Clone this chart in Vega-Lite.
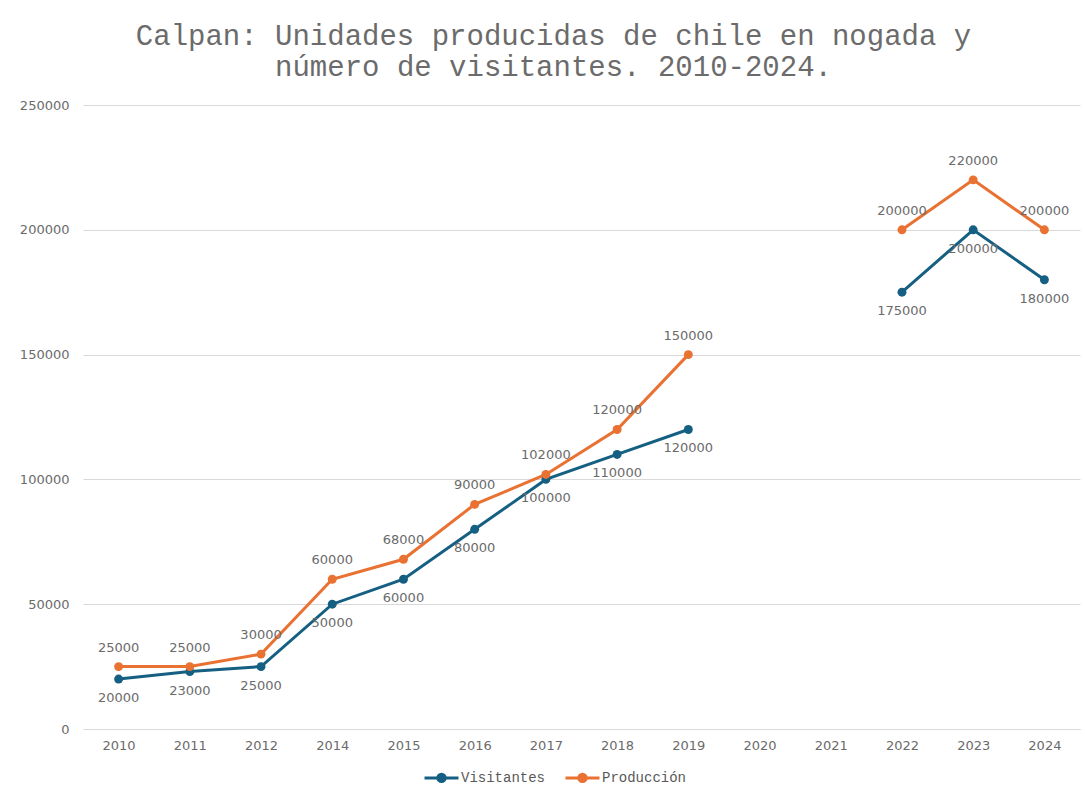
{
  "$schema": "https://vega.github.io/schema/vega-lite/v6.json",
  "autosize": "none",
  "width": 997,
  "height": 624,
  "padding": {"left": 83, "top": 105, "right": 5, "bottom": 66},
  "background": "white",
  "title": {
    "text": ["Calpan: Unidades producidas de chile en nogada y", "número de visitantes. 2010-2024."],
    "font": "Liberation Mono",
    "fontSize": 29,
    "fontWeight": "normal",
    "color": "#6b6b6b",
    "lineHeight": 31,
    "anchor": "middle",
    "dx": -28,
    "offset": 17
  },
  "data": {
    "values": [
      {"anio": "2010", "serie": "Visitantes", "valor": 20000},
      {"anio": "2011", "serie": "Visitantes", "valor": 23000},
      {"anio": "2012", "serie": "Visitantes", "valor": 25000},
      {"anio": "2014", "serie": "Visitantes", "valor": 50000},
      {"anio": "2015", "serie": "Visitantes", "valor": 60000},
      {"anio": "2016", "serie": "Visitantes", "valor": 80000},
      {"anio": "2017", "serie": "Visitantes", "valor": 100000},
      {"anio": "2018", "serie": "Visitantes", "valor": 110000},
      {"anio": "2019", "serie": "Visitantes", "valor": 120000},
      {"anio": "2020", "serie": "Visitantes", "valor": null},
      {"anio": "2021", "serie": "Visitantes", "valor": null},
      {"anio": "2022", "serie": "Visitantes", "valor": 175000},
      {"anio": "2023", "serie": "Visitantes", "valor": 200000},
      {"anio": "2024", "serie": "Visitantes", "valor": 180000},
      {"anio": "2010", "serie": "Producción", "valor": 25000},
      {"anio": "2011", "serie": "Producción", "valor": 25000},
      {"anio": "2012", "serie": "Producción", "valor": 30000},
      {"anio": "2014", "serie": "Producción", "valor": 60000},
      {"anio": "2015", "serie": "Producción", "valor": 68000},
      {"anio": "2016", "serie": "Producción", "valor": 90000},
      {"anio": "2017", "serie": "Producción", "valor": 102000},
      {"anio": "2018", "serie": "Producción", "valor": 120000},
      {"anio": "2019", "serie": "Producción", "valor": 150000},
      {"anio": "2020", "serie": "Producción", "valor": null},
      {"anio": "2021", "serie": "Producción", "valor": null},
      {"anio": "2022", "serie": "Producción", "valor": 200000},
      {"anio": "2023", "serie": "Producción", "valor": 220000},
      {"anio": "2024", "serie": "Producción", "valor": 200000}
    ]
  },
  "encoding": {
    "x": {
      "field": "anio",
      "type": "ordinal",
      "scale": {"type": "point", "padding": 0.5, "domain": ["2010","2011","2012","2014","2015","2016","2017","2018","2019","2020","2021","2022","2023","2024"]},
      "axis": {
        "title": null,
        "labelAngle": 0,
        "ticks": false,
        "grid": false,
        "domain": true,
        "domainColor": "#D9D9D9",
        "domainWidth": 1,
        "labelPadding": 10,
        "labelFont": "DejaVu Sans",
        "labelFontSize": 13,
        "labelColor": "#6b6b6b"
      }
    },
    "y": {
      "field": "valor",
      "type": "quantitative",
      "scale": {"domain": [0, 250000], "nice": false},
      "axis": {
        "title": null,
        "values": [0, 50000, 100000, 150000, 200000, 250000],
        "format": "d",
        "ticks": false,
        "domain": false,
        "grid": true,
        "gridColor": "#D9D9D9",
        "gridWidth": 1,
        "labelPadding": 14,
        "labelFont": "DejaVu Sans",
        "labelFontSize": 13,
        "labelColor": "#6b6b6b"
      }
    },
    "color": {
      "field": "serie",
      "type": "nominal",
      "scale": {"domain": ["Visitantes", "Producción"], "range": ["#156082", "#E97132"]},
      "legend": {
        "title": null,
        "orient": "none",
        "direction": "horizontal",
        "legendX": 340,
        "legendY": 654,
        "symbolType": "M-1,0H1M0.22,0A0.22,0.22,0,1,1,-0.22,0A0.22,0.22,0,1,1,0.22,0Z",
        "symbolSize": 1156,
        "symbolStrokeWidth": 3,
        "labelFont": "Liberation Mono",
        "labelFontSize": 14,
        "labelColor": "#595959",
        "labelOffset": 1,
        "columnPadding": 13,
        "encode": {
          "symbols": {"update": {"stroke": {"scale": "color", "field": "value"}, "fill": {"scale": "color", "field": "value"}, "strokeWidth": {"value": 3}, "opacity": {"value": 1}}}
        }
      }
    }
  },
  "layer": [
    {
      "mark": {"type": "line", "strokeWidth": 3, "invalid": "break-paths-show-domains"}
    },
    {
      "mark": {"type": "point", "filled": true, "size": 80, "opacity": 1}
    },
    {
      "transform": [{"filter": "datum.serie === 'Producción'"}],
      "mark": {"type": "text", "dy": -19, "font": "DejaVu Sans", "fontSize": 13},
      "encoding": {
        "text": {"field": "valor", "type": "quantitative", "format": "d"},
        "color": {"value": "#6b6b6b"}
      }
    },
    {
      "transform": [{"filter": "datum.serie === 'Visitantes'"}],
      "mark": {"type": "text", "dy": 19, "font": "DejaVu Sans", "fontSize": 13},
      "encoding": {
        "text": {"field": "valor", "type": "quantitative", "format": "d"},
        "color": {"value": "#6b6b6b"}
      }
    }
  ],
  "config": {
    "view": {"stroke": null}
  }
}
